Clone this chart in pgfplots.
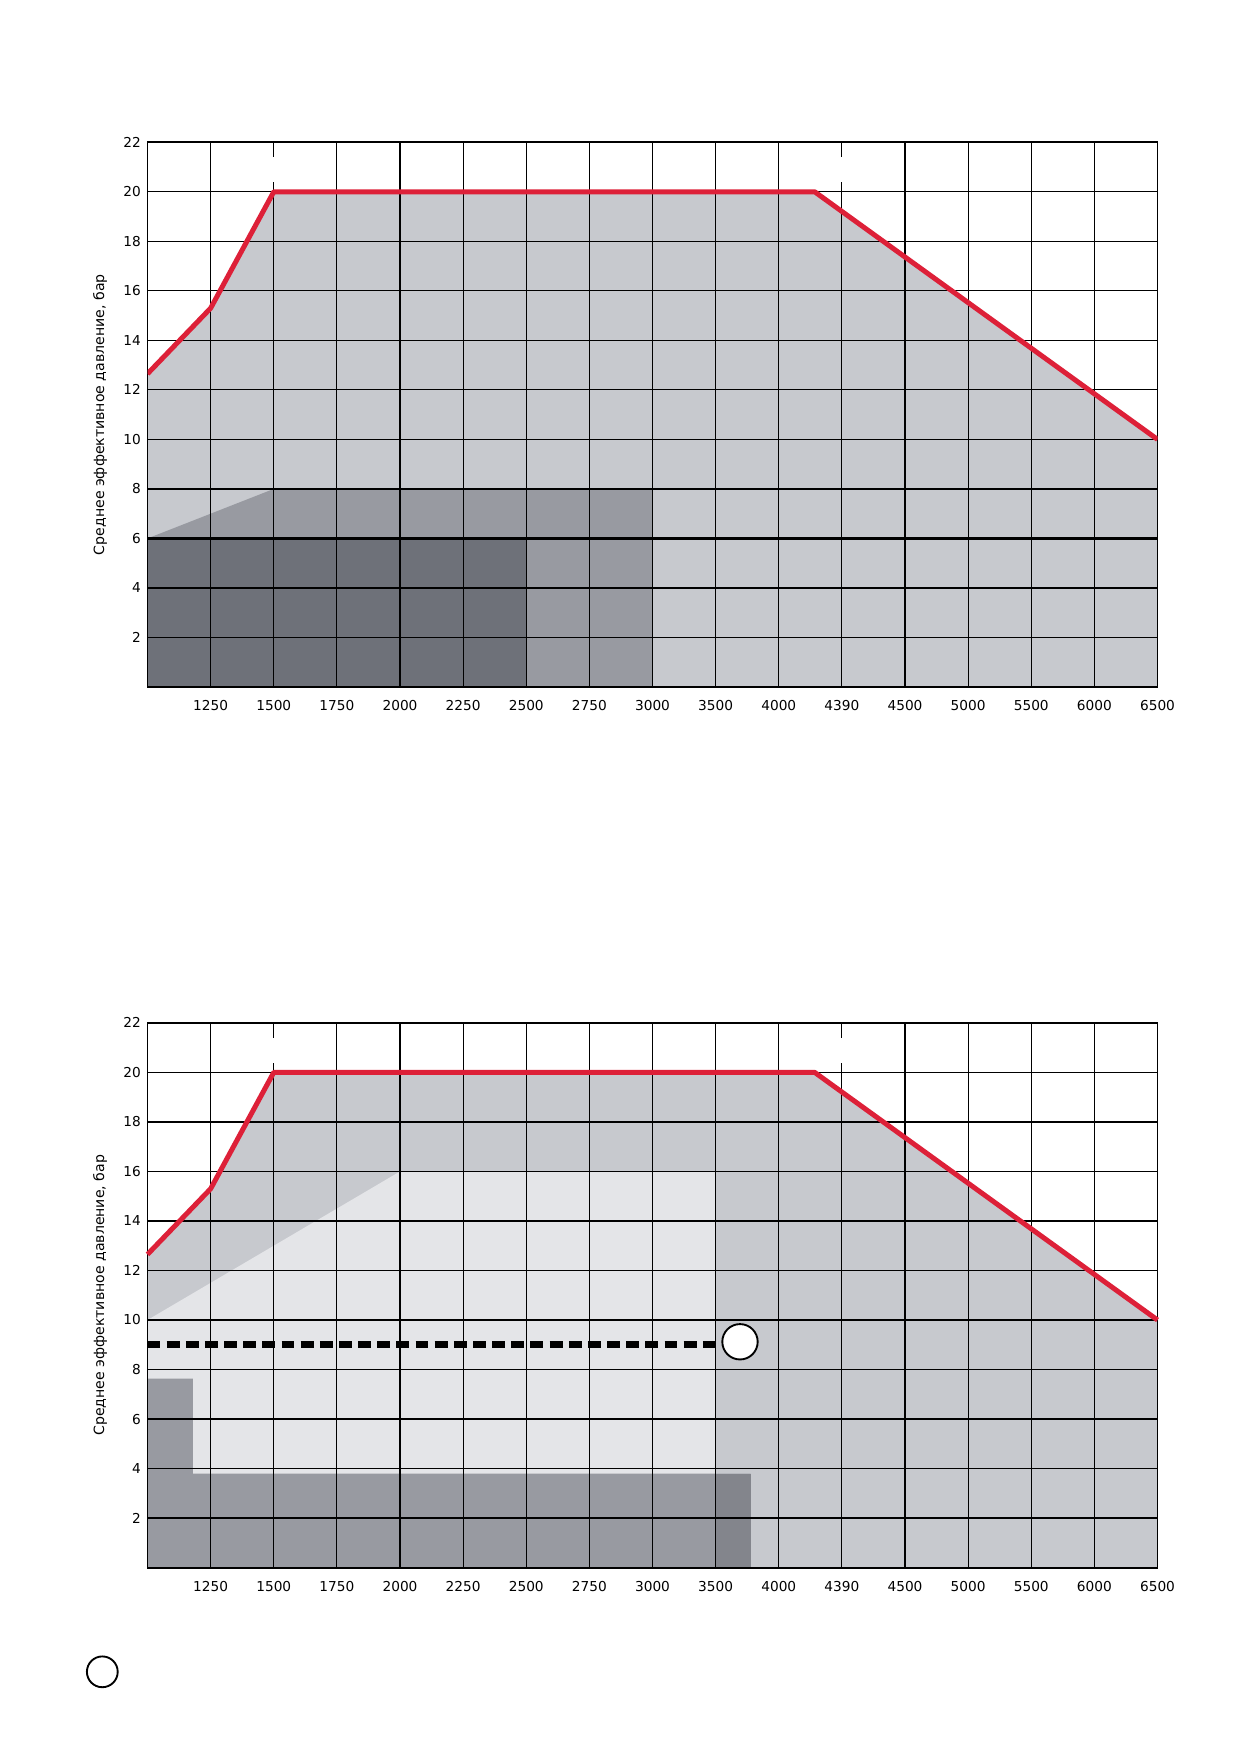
\documentclass[border=0pt]{standalone}
\usepackage{fontspec}
\setmainfont{DejaVu Sans}
\usepackage{pgfplots}
\pgfplotsset{compat=1.18}
\definecolor{lfill}{RGB}{199,201,206}
\definecolor{mfill}{RGB}{152,154,161}
\definecolor{dfill}{RGB}{110,113,121}
\definecolor{vlfill}{RGB}{228,229,232}
\definecolor{ofill}{RGB}{131,133,140}
\definecolor{redline}{RGB}{221,32,56}
\pgfplotsset{
  mychart/.style={
    anchor=south west,
    scale only axis, width=485.26bp, height=261.7bp,
    xmin=0, xmax=16, ymin=0, ymax=22,
    xtick={1,...,16},
    xticklabels={1250,1500,1750,2000,2250,2500,2750,3000,3500,4000,4390,4500,5000,5500,6000,6500},
    ytick={2,4,...,22},
    /pgf/number format/assume math mode=true,
    grid=major, grid style={black, line width=0.55bp},
    major tick length=0pt,
    axis line style={black, line width=0.9bp},
    tick label style={font=\fontsize{6.6}{8}\selectfont},
    xticklabel style={yshift=-2.9bp},
    yticklabel style={xshift=0.3bp},
    ylabel={Среднее эффективное давление, бар},
    ylabel style={at={(axis description cs:-0.047,0.5)}, anchor=center, font=\fontsize{6.8}{8}\selectfont},
    set layers,
  }
}
\begin{document}
\begin{tikzpicture}
% ---------------- top chart
\begin{axis}[mychart, at={(70.87bp,511.68bp)},
  extra y ticks={6}, extra y tick labels={},
  extra y tick style={grid style={black, line width=1.3bp}}]
\addplot[on layer=axis background, fill=lfill, draw=none] coordinates {(0,0) (0,12.65) (1,15.3) (2,20) (10.57,20) (16,10) (16,0)};
\addplot[on layer=axis background, fill=mfill, draw=none] coordinates {(0,0) (0,6) (2,8) (8,8) (8,0)};
\addplot[on layer=axis background, fill=dfill, draw=none] coordinates {(0,0) (0,6) (6,6) (6,0)};
\addplot[white, line width=1.6bp] coordinates {(2,20.4) (2,21.4)};
\addplot[white, line width=1.6bp] coordinates {(11,20.4) (11,21.4)};
\addplot[redline, line width=2.4bp, line join=round] coordinates {(0,12.65) (1,15.3) (2,20) (10.57,20) (16,10)};
\end{axis}
% ---------------- bottom chart
\begin{axis}[mychart, at={(70.87bp,88.6bp)}, clip=false]
\addplot[on layer=axis background, fill=lfill, draw=none] coordinates {(0,0) (0,12.65) (1,15.3) (2,20) (10.57,20) (16,10) (16,0)};
\addplot[on layer=axis background, fill=vlfill, draw=none] coordinates {(0,0) (0,10) (4,16) (9,16) (9,0)};
\addplot[on layer=axis background, fill=mfill, draw=none] coordinates {(0,0) (0,7.63) (0.72,7.63) (0.72,3.8) (9.555,3.8) (9.555,0)};
\addplot[on layer=axis background, fill=ofill, draw=none] coordinates {(9,0) (9,3.8) (9.555,3.8) (9.555,0)};
\addplot[white, line width=1.6bp] coordinates {(2,20.4) (2,21.4)};
\addplot[white, line width=1.6bp] coordinates {(11,20.4) (11,21.4)};
\addplot[black, line width=3.3bp, dash pattern=on 6.2bp off 3.0bp] coordinates {(0,9) (9,9)};
\addplot[redline, line width=2.4bp, line join=round] coordinates {(0,12.65) (1,15.3) (2,20) (10.57,20) (16,10)};
\addplot[only marks, mark=*, mark size=8.5bp, mark options={fill=white, draw=black, line width=0.9bp}] coordinates {(9.386,9.12)};
\addplot[only marks, mark=*, mark size=7.4bp, mark options={fill=white, draw=black, line width=0.9bp}] coordinates {(-0.716,-4.21)};
\end{axis}
\path (0,0) rectangle (595.28bp,841.76bp);
\end{tikzpicture}
\end{document}
